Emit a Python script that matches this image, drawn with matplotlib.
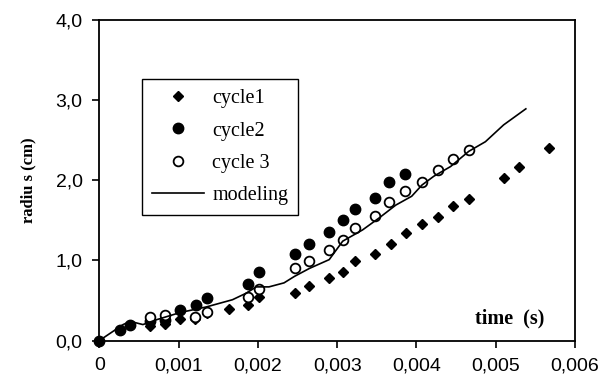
import numpy as np
import matplotlib.pyplot as plt
from matplotlib.ticker import FuncFormatter

# cycle 1 (diamonds)
t1 = [0, 0.00064, 0.00083, 0.00102, 0.00121, 0.00136, 0.00164, 0.00187, 0.00202,
      0.00247, 0.00265, 0.0029, 0.00307, 0.00323, 0.00348, 0.00368, 0.00387,
      0.00407, 0.00427, 0.00446, 0.00466, 0.00511, 0.0053, 0.00567]
r1 = [0, 0.18, 0.21, 0.27, 0.27, 0.34, 0.40, 0.45, 0.55,
      0.59, 0.68, 0.78, 0.85, 0.99, 1.08, 1.21, 1.34,
      1.45, 1.54, 1.68, 1.77, 2.03, 2.17, 2.40]

# cycle 2 (filled circles)
t2 = [0, 0.00026, 0.00039, 0.00064, 0.00083, 0.00102, 0.00122, 0.00136, 0.00187,
      0.00202, 0.00247, 0.00265, 0.0029, 0.00307, 0.00323, 0.00348, 0.00366, 0.00386]
r2 = [0, 0.13, 0.20, 0.25, 0.26, 0.38, 0.45, 0.53, 0.71,
      0.85, 1.08, 1.21, 1.36, 1.50, 1.64, 1.78, 1.98, 2.08]

# cycle 3 (open circles)
t3 = [0.00064, 0.00083, 0.00121, 0.00136, 0.00187, 0.00202, 0.00247, 0.00265,
      0.0029, 0.00307, 0.00323, 0.00348, 0.00366, 0.00386, 0.00407, 0.00427,
      0.00446, 0.00466]
r3 = [0.30, 0.32, 0.29, 0.36, 0.55, 0.64, 0.90, 0.99,
      1.13, 1.26, 1.40, 1.55, 1.73, 1.87, 1.98, 2.13,
      2.27, 2.38]

# modeling
tm = [0, 0.00015, 0.0003, 0.00039, 0.00047, 0.00055, 0.00072, 0.00102, 0.00135,
      0.00168, 0.00185, 0.00198, 0.00214, 0.00233, 0.00246, 0.00265, 0.0029,
      0.00307, 0.00332, 0.00353, 0.00374, 0.00394, 0.00407, 0.00422, 0.00443,
      0.00466, 0.00487, 0.0051, 0.00538]
rm = [0, 0.10, 0.20, 0.24, 0.22, 0.20, 0.26, 0.35, 0.42,
      0.51, 0.59, 0.67, 0.67, 0.72, 0.80, 0.90, 1.01,
      1.24, 1.38, 1.53, 1.69, 1.80, 1.94, 2.05, 2.17,
      2.36, 2.48, 2.69, 2.89]

fig = plt.figure(figsize=(6.13, 3.81), dpi=100)
ax = fig.add_axes([0.162, 0.106, 0.776, 0.842])

ax.plot(t1, r1, linestyle='none', marker='D', markersize=5.5, color='black', label='cycle1', clip_on=False)
ax.plot(t2, r2, linestyle='none', marker='o', markersize=7.5, color='black', label='cycle2', clip_on=False)
ax.plot(t3, r3, linestyle='none', marker='o', markersize=7, markerfacecolor='white',
        markeredgecolor='black', markeredgewidth=1.3, label='cycle 3', clip_on=False)
ax.plot(tm, rm, color='black', linewidth=1.2, label='modeling')

ax.set_xlim(0, 0.006)
ax.set_ylim(0, 4.0)
ax.set_xticks(np.arange(0, 0.0061, 0.001))
ax.set_yticks(np.arange(0, 4.01, 1.0))

ax.xaxis.set_major_formatter(FuncFormatter(lambda v, p: '0' if abs(v) < 1e-9 else f'{v:.3f}'.replace('.', ',')))
ax.yaxis.set_major_formatter(FuncFormatter(lambda v, p: f'{v:.1f}'.replace('.', ',')))

ax.tick_params(direction='out', length=5, width=1.2, labelsize=14, pad=7)
for lab in ax.get_xticklabels() + ax.get_yticklabels():
    lab.set_fontfamily('Liberation Sans')
for s in ax.spines.values():
    s.set_linewidth(1.3)

ax.set_ylabel('radiu s (cm)', fontfamily='Liberation Serif', fontweight='bold', fontsize=12, labelpad=14)
ax.text(0.935, 0.07, 'time  (s)', transform=ax.transAxes, ha='right', va='center',
        fontfamily='Liberation Serif', fontweight='bold', fontsize=14.5)

leg = ax.legend(loc='upper left', bbox_to_anchor=(0.089, 0.815), borderaxespad=0, fancybox=False,
                framealpha=1, edgecolor='black', prop={'family': 'Liberation Serif', 'size': 14.5},
                labelspacing=0.65, handlelength=2.6, borderpad=0.5, handletextpad=0.4)
leg.get_frame().set_linewidth(1.0)

fig.savefig('out.png', dpi=100)
